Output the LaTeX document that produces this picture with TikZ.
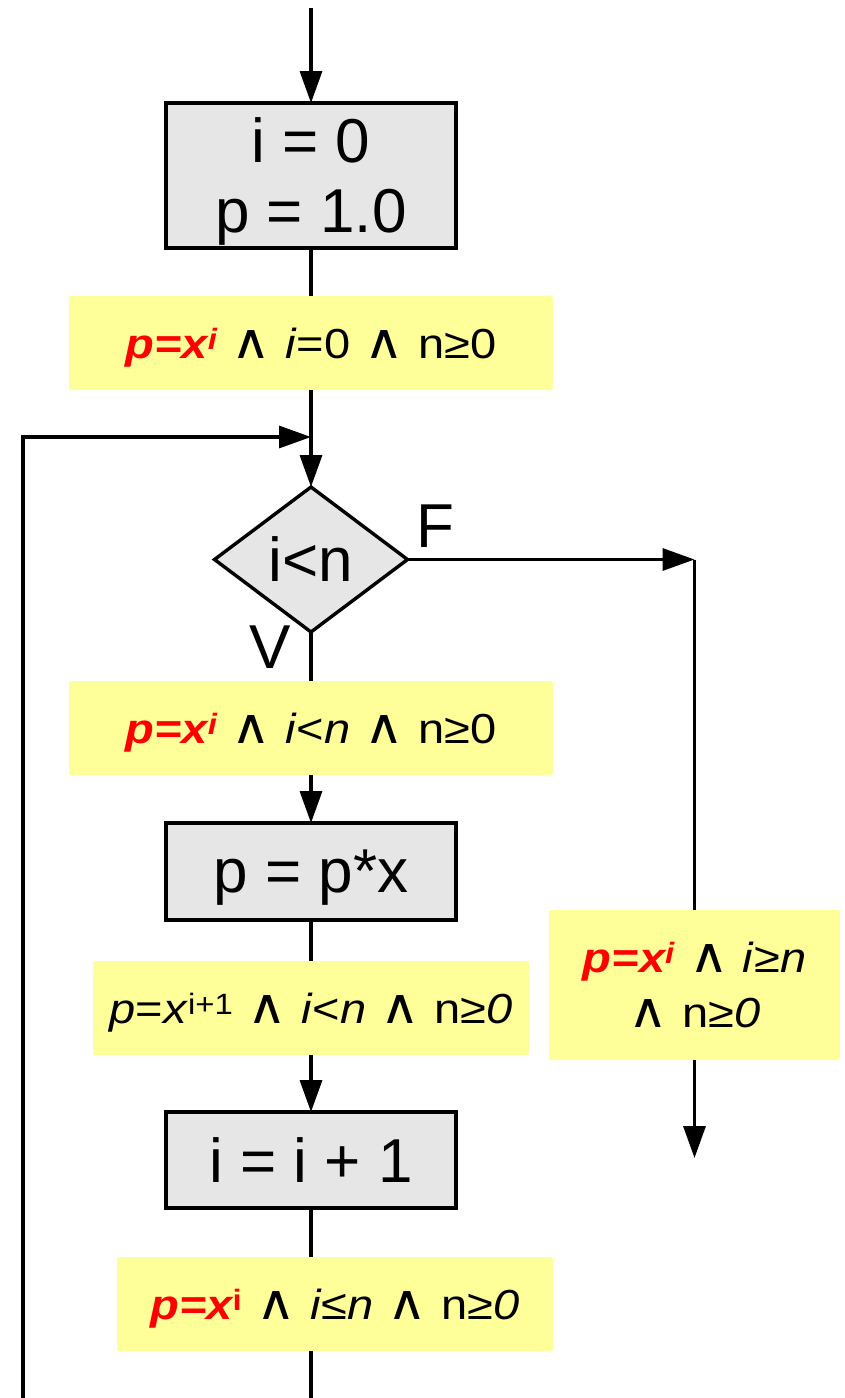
\documentclass[tikz,border=0pt]{standalone}
\usepackage{fontspec}
\usepackage{graphicx}
\setmainfont{Liberation Sans}
\newfontfamily\andfont[Scale=1.15]{DejaVu Sans}
\usetikzlibrary{positioning,arrows.meta,shapes.geometric}
\definecolor{boxgray}{HTML}{E6E6E6}
\definecolor{notepale}{HTML}{FFFF99}
\newcommand{\con}{\hspace{0.3em}{\andfont ∧}\hspace{0.3em}}
\newcommand{\redpx}{\textcolor{red}{\bfseries\itshape p=x\textsuperscript{i}}}
\newcommand{\stretchtext}[1]{\scalebox{1.12}[1]{#1}}
\tikzset{
  >={Triangle[length=32pt,width=22pt]},
  every path/.style={line width=3.4pt},
  every node/.style={outer sep=0pt},
}

\begin{document}
\begin{tikzpicture}[
  x=1pt,y=-1pt,
  procbox/.style={draw,fill=boxgray,line width=3.4pt,minimum width=290pt,
    inner sep=0pt,text depth=0pt,align=center,font=\fontsize{62}{70}\selectfont},
  testbox/.style={diamond,draw,fill=boxgray,line width=3.4pt,minimum width=193pt,
    minimum height=145pt,inner sep=0pt,font=\fontsize{62}{70}\selectfont},
  invnote/.style={fill=notepale,rounded corners=2pt,minimum height=94pt,
    inner sep=0pt,text depth=0pt,align=center,font=\fontsize{42}{55}\selectfont},
  branch/.style={font=\fontsize{62}{70}\selectfont,inner sep=0pt}
]
\useasboundingbox (0,0) rectangle (844,1398);

\node[procbox,minimum height=145pt] (init) at (311,175.5) {i = 0\\p = 1.0};
\node[invnote,minimum width=484pt,below=48pt of init] (inv1)
  {\stretchtext{\redpx\con\textit{i}=0\con n≥0}};
\node[testbox,below=97pt of inv1] (cond) {i<n};
\node[invnote,minimum width=484pt,below=49pt of cond] (inv2)
  {\stretchtext{\redpx\con\textit{i}<\textit{n}\con n≥0}};
\node[procbox,minimum height=97pt,below=48pt of inv2] (mult) {p = p*x};
\node[invnote,minimum width=436pt,below=41pt of mult] (inv3)
  {\stretchtext{\textit{p}=\textit{x}\textsuperscript{i+1}\con\textit{i}<\textit{n}\con n≥\textit{0}}};
\node[procbox,minimum height=96pt,below=57pt of inv3] (incr) {i = i + 1};
\node[invnote,minimum width=436pt,below=49pt of incr,xshift=24pt] (inv4)
  {\stretchtext{\textcolor{red}{\bfseries\itshape p=x\textsuperscript{\upshape i}}\con\textit{i}≤\textit{n}\con n≥\textit{0}}};
\node[invnote,minimum width=291pt,minimum height=150pt] (inv5) at (694.5,985)
  {\stretchtext{\redpx\con\textit{i}≥\textit{n}}\\\stretchtext{{\andfont ∧}\hspace{0.3em}n≥\textit{0}}};

\node[branch,anchor=base west] (flab) at (416,547) {F};
\node[branch,anchor=base west] (vlab) at (249,668) {V};

\coordinate (start) at (311,8);
\coordinate[below=47pt of inv1.south] (merge);
\coordinate (loopstart) at (23,1398);
\coordinate (exit) at (311,1398);
\coordinate (turn) at (cond.east -| inv5.north);
\coordinate[below=98pt of inv5.south] (outF);

\draw[->] (start) -- (init);
\draw (init) -- (inv1);
\draw[->] (inv1) -- (cond);
\draw[->] (loopstart) |- (merge);
\draw (cond) -- (inv2);
\draw[->] (inv2) -- (mult);
\draw (mult) -- (inv3);
\draw[->] (inv3) -- (incr);
\draw (incr.south) -- (incr.south |- inv4.north);
\draw (inv4.south -| exit) -- (exit);
\draw[->] (cond.east) -- (turn);
\draw (turn) -- (inv5.north);
\draw[->] (inv5.south) -- (outF);

\end{tikzpicture}
\end{document}
